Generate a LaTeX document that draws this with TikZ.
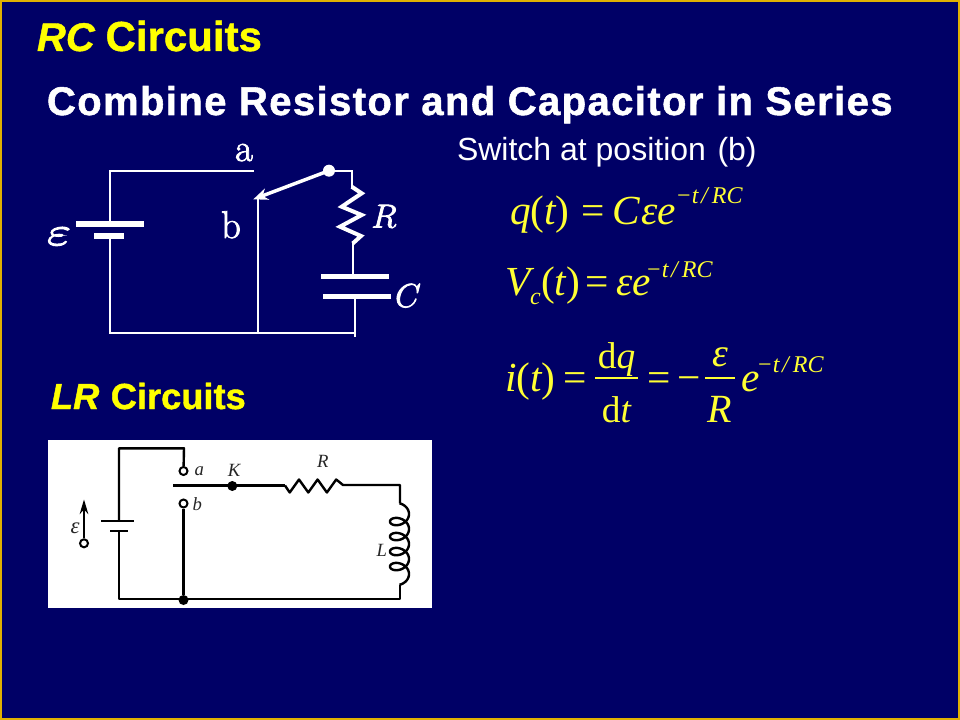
\documentclass[tikz,border=0pt]{standalone}
\usepackage{fontspec}
\usepackage{graphicx}
\usetikzlibrary{arrows.meta}
\newfontfamily\arialf{Liberation Sans}
\newfontfamily\arialsp[LetterSpace=3.5]{Liberation Sans}
\newfontfamily\eqf{Liberation Serif}
\definecolor{navybg}{HTML}{000066}
\definecolor{framegold}{HTML}{E0B000}
\definecolor{titleyellow}{HTML}{FFFF00}
\definecolor{eqyellow}{HTML}{FFFF33}
\newcommand{\eqtxt}[1]{{\eqf\itshape #1}}
\newcommand{\fs}[1]{\fontsize{#1}{#1}\selectfont}
\newcommand{\heavy}[2]{\special{pdf:code q 2 Tr #1 w}#2\special{pdf:code Q}}
\newcommand{\expo}{−\kern1pt\eqtxt{t\kern2pt/\kern3pt RC}}
\tikzset{
 x=0.75pt,y=-0.75pt,
 txt/.style={inner sep=0pt,outer sep=0pt,anchor=base west},
 ctxt/.style={inner sep=0pt,outer sep=0pt,anchor=base},
 eqn/.style={txt,text=eqyellow,font=\fs{31}\eqf},
 eqc/.style={ctxt,text=eqyellow,font=\fs{28}\eqf},
 eqx/.style={txt,text=eqyellow,font=\fs{18}\eqf},
 wire/.style={draw=white,line width=1.5pt,line cap=rect},
 plate/.style={draw=white,line width=4.2pt},
 blk/.style={draw=black,line width=1.8pt,line join=round},
 rclabel/.style={ctxt,text=white,font=\fs{29}},
 lrlabel/.style={ctxt,text=black!85,font=\fs{14}\eqf\itshape},
 hollow/.style={circle,draw=black,line width=1.5pt,fill=white,minimum size=6pt,inner sep=0pt},
 solid dot/.style={circle,fill=black,minimum size=7.5pt,inner sep=0pt},
}
\begin{document}
\begin{tikzpicture}
\useasboundingbox (0,0) rectangle (960,720);
\fill[navybg] (0,0) rectangle (960,720);
\draw[framegold,line width=1.5pt] (1,1) rectangle (959,719);

% titles
\node[txt,text=titleyellow,font=\fs{31.5}\arialf\bfseries] (t1) at (37,51) {\heavy{0.3}{\textit{\fs{30}RC}\kern-1pt\ Circuits}};
\node[txt,text=white,font=\fs{30}\arialsp\bfseries] (t2) at (47,115) {\heavy{0.4}{Combine Resistor and Capacitor in Series}};
\node[txt,text=titleyellow,font=\fs{27.2}\arialf\bfseries] (t3) at (51,409) {\heavy{0.3}{\textit{LR}\kern1pt\ Circuits}};
\node[txt,text=white,font=\fs{24}\arialf] (t4) at (457,161) {Switch at position\kern2pt\ (b)};

% RC circuit
\coordinate (tl) at (110,170.7);
\coordinate (aend) at (252.7,170.7);
\coordinate (bl) at (110,333.3);
\coordinate (b2) at (257.7,333.3);
\coordinate (br) at (355,333.3);
\coordinate (brx) at (355,336);
\coordinate (btop) at (257.7,200);
\coordinate (bp1) at (110,224);
\coordinate (bp2) at (110,236);
\coordinate (tip) at (253.3,199.3);
\coordinate (rtop) at (351.7,170.7);
\coordinate (rin) at (351.7,186.7);
\coordinate (rout) at (352.7,243.5);
\coordinate (cp1) at (352.7,276.7);
\coordinate (cp2) at (355,296.7);
\node[circle,fill=white,minimum size=9pt,inner sep=0pt] (sw) at (329,170.7) {};
\draw[wire] (aend) -- (tl) -- (bp1);
\draw[wire] (bp2) -- (bl) -- (br) -- (brx);
\draw[wire] (b2) -- (btop);
\draw[wire] (sw.center) -- (rtop) -- (rin);
\draw[wire] (rout) -- (cp1);
\draw[wire] (cp2) -- (br);
\draw[draw=white,line width=2.6pt,-{Stealth[length=11pt,width=9pt]}] (sw.center) -- (tip);
\draw[draw=white,line width=3pt,line join=miter] (rin) -- (361.7,193.3) -- (341.7,206.7) -- (361.7,215) -- (340,226.7) -- (361,236) -- (rout);
\draw[plate] (76,224) -- (144,224);
\draw[plate] (94,236) -- (124,236);
\draw[plate] (321,276.7) -- (389,276.7);
\draw[plate] (323,296.7) -- (391,296.7);
\node[rclabel] (la) at (244,161) {\heavy{0.6}{a}};
\node[rclabel] (lb) at (231,238) {\heavy{0.6}{b}};
\node[rclabel] (lR) at (384,227.5) {\heavy{0.6}{$R$}};
\node[rclabel] (lC) at (408,307) {\heavy{0.6}{$C$}};
\node[rclabel] (lE) at (59,245) {\heavy{0.7}{\scalebox{1.55}[1.2]{$\varepsilon$}}};

% LR picture
\fill[white] (48,440) rectangle (432,608);
\coordinate (Lbat1) at (119,521);
\coordinate (Lbat2) at (119,531);
\coordinate (Ltl) at (119,448.3);
\coordinate (Ltr) at (184,448.3);
\coordinate (Lbl) at (119,599);
\coordinate (Lbr) at (400,599);
\coordinate (Ltrr) at (400,485);
\coordinate (Lsw) at (173.3,485.5);
\coordinate (Lr1) at (285,485.5);
\coordinate (Lr2) at (343,485);
\coordinate (Lc1) at (400,503.3);
\coordinate (Lc2) at (400,585);
\node[hollow] (na) at (183.5,471) {};
\node[hollow] (nb) at (183.5,503.5) {};
\node[solid dot] (nk) at (232.3,486) {};
\node[solid dot] (nj) at (183.5,600) {};
\node[hollow] (ne) at (84,543.3) {};
\coordinate (etip) at (84,499.5);
\draw[blk] (Lbat1) -- (Ltl) -- (Ltr) -- (na);
\draw[blk] (Lbat2) -- (Lbl) -- (Lbr) -- (Lc2);
\draw[blk] (nb) -- (nj);
\draw[blk] (Lsw) -- (Lr1);
\draw[blk] (Lr1) -- ++(4.7,7) -- ++(9.3,-13) -- ++(9.3,13) -- ++(9.3,-13) -- ++(9.3,13) -- ++(9.3,-13) -- (Lr2) -- (Ltrr) -- (Lc1);
\draw[blk] plot[domain=0:1620,samples=300,smooth] ({399.5+9.5*sin(\x)},{503.3+\x/24+7*(1-cos(\x))});
\draw[blk] (101,521) -- (134.3,521);
\draw[blk] (110,531) -- (128,531);
\draw[black,line width=1.4pt,-{Stealth[length=11pt,width=6.5pt]}] (ne) -- (etip);
\node[lrlabel] (lra) at (199.3,475) {a};
\node[lrlabel] (lrb) at (197.3,510) {b};
\node[lrlabel] (lrk) at (234,476.5) {K};
\node[lrlabel] (lrr) at (322.7,467.5) {R};
\node[lrlabel] (lrl) at (381.7,556.5) {L};
\node[lrlabel,font=\fs{17}\eqf\itshape] (lre) at (75,533) {ε};

% equations
\node[eqn] (q1) at (510,225) {\eqtxt{q}(\eqtxt{t})};
\node[eqn] (q1e) at (581,225) {=};
\node[eqn] (q1c) at (612,225) {\eqtxt{C}};
\node[eqn] (q1f) at (641,225) {\eqtxt{εe}};
\node[eqx] (q1x) at (677,204) {\expo};
\node[eqn] (q2) at (505,296) {\eqtxt{V}};
\node[eqx] (q2c) at (530,305) {\eqtxt{c}};
\node[eqn] (q2t) at (541,296) {(\eqtxt{t})};
\node[eqn] (q2e) at (585,296) {=};
\node[eqn] (q2f) at (616,296) {\eqtxt{εe}};
\node[eqx] (q2x) at (647,278) {\expo};
\node[eqn] (i1) at (505,391) {\eqtxt{i}(\eqtxt{t})};
\node[eqn] (i1e) at (563,391) {=};
\node[eqc] (fn1) at (616.5,368) {d\eqtxt{q}};
\node[eqc] (fd1) at (616.5,422) {d\eqtxt{t}};
\coordinate (f1a) at (595,378);
\coordinate (f1b) at (638,378);
\draw[eqyellow,line width=1.2pt] (f1a) -- (f1b);
\node[eqn] (i2) at (647,391) {=};
\node[eqn] (i3) at (677,391) {−};
\node[eqc,font=\fs{30}\eqf] (fn2) at (720,366) {\eqtxt{ε}};
\node[eqc,font=\fs{30}\eqf] (fd2) at (720,422) {\eqtxt{R}};
\coordinate (f2a) at (705,378);
\coordinate (f2b) at (735,378);
\draw[eqyellow,line width=1.2pt] (f2a) -- (f2b);
\node[eqn] (i4) at (741,391) {\eqtxt{e}};
\node[eqx] (i4x) at (758,372) {\expo};
\end{tikzpicture}
\end{document}
